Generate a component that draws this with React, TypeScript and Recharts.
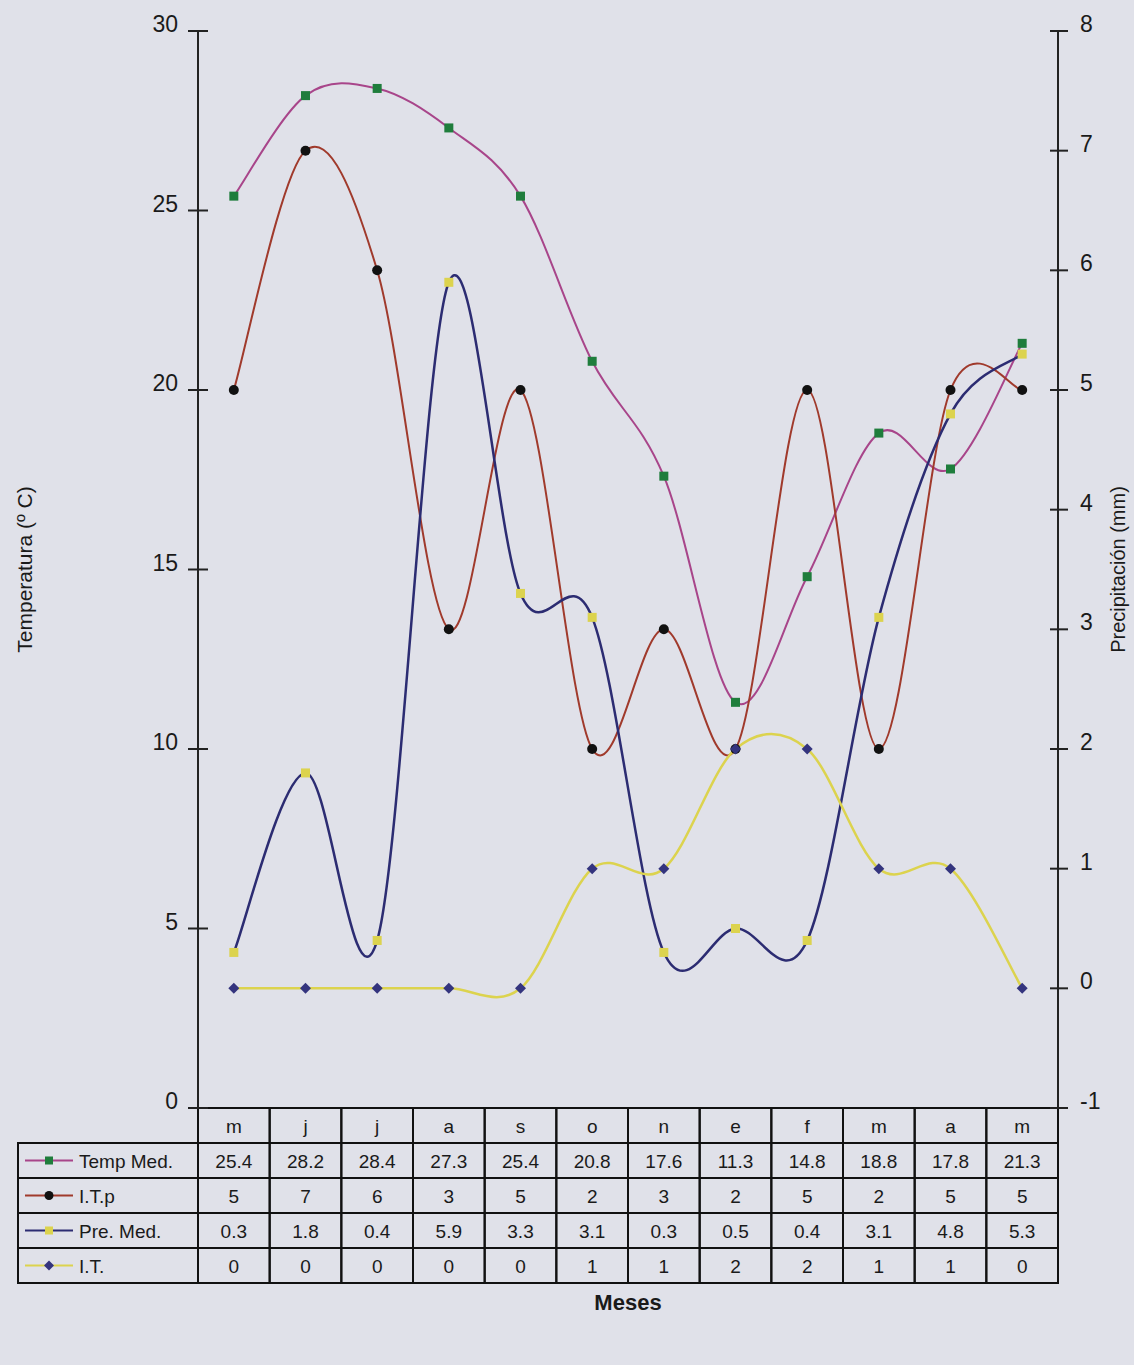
import React from 'react';
import { LineChart, Line, XAxis, YAxis } from 'recharts';

const months = ['m', 'j', 'j', 'a', 's', 'o', 'n', 'e', 'f', 'm', 'a', 'm'];
const tempMed = [25.4, 28.2, 28.4, 27.3, 25.4, 20.8, 17.6, 11.3, 14.8, 18.8, 17.8, 21.3];
const itp = [5, 7, 6, 3, 5, 2, 3, 2, 5, 2, 5, 5];
const preMed = [0.3, 1.8, 0.4, 5.9, 3.3, 3.1, 0.3, 0.5, 0.4, 3.1, 4.8, 5.3];
const it = [0, 0, 0, 0, 0, 1, 1, 2, 2, 1, 1, 0];
const leftTicks = [0, 5, 10, 15, 20, 25, 30];
const rightTicks = [-1, 0, 1, 2, 3, 4, 5, 6, 7, 8];

const data = months.map((m, i) => ({
  idx: i,
  mes: m,
  temp: tempMed[i],
  itp: itp[i],
  pre: preMed[i],
  it: it[i],
}));

const W = 1134;
const H = 1365;
const PLOT_L = 198;
const PLOT_R = 1058;
const PLOT_T = 31;
const PLOT_B = 1108;
const BAND = (PLOT_R - PLOT_L) / months.length;
const ROW = 35;
const FONT = '"Liberation Sans", Arial, sans-serif';

const C_TEMP = '#a8458a';
const C_ITP = '#a03a2c';
const C_PRE = '#2c2c72';
const C_IT = '#dcd34e';
const C_GREEN = '#1f7d3c';
const C_DIAMOND = '#34347e';

// Excel-style smoothed line (Catmull-Rom through every point)
const excelCurve = (context: any) => {
  let pts: [number, number][] = [];
  return {
    areaStart() {},
    areaEnd() {},
    lineStart() {
      pts = [];
    },
    point(x: number, y: number) {
      pts.push([+x, +y]);
    },
    lineEnd() {
      if (!pts.length) return;
      context.moveTo(pts[0][0], pts[0][1]);
      for (let i = 0; i < pts.length - 1; i++) {
        const p0 = pts[i - 1] || pts[i];
        const p1 = pts[i];
        const p2 = pts[i + 1];
        const p3 = pts[i + 2] || p2;
        context.bezierCurveTo(
          p1[0] + (p2[0] - p0[0]) / 6,
          p1[1] + (p2[1] - p0[1]) / 6,
          p2[0] - (p3[0] - p1[0]) / 6,
          p2[1] - (p3[1] - p1[1]) / 6,
          p2[0],
          p2[1]
        );
      }
    },
  };
};

const SquareDot = (color: string) => (props: any) => {
  const { cx, cy, index } = props;
  if (cx == null || cy == null) return <g key={index} />;
  return <rect key={index} x={cx - 4.5} y={cy - 4.5} width={9} height={9} fill={color} />;
};

const CircleDot = (props: any) => {
  const { cx, cy, index } = props;
  if (cx == null || cy == null) return <g key={index} />;
  return <circle key={index} cx={cx} cy={cy} r={5} fill="#111" />;
};

const DiamondDot = (props: any) => {
  const { cx, cy, index } = props;
  if (cx == null || cy == null) return <g key={index} />;
  return (
    <path
      key={index}
      d={`M${cx},${cy - 5.5}L${cx + 5.5},${cy}L${cx},${cy + 5.5}L${cx - 5.5},${cy}Z`}
      fill={C_DIAMOND}
    />
  );
};

const legendRows = [
  { name: 'Temp Med.', line: C_TEMP, marker: 'square', mcolor: C_GREEN, values: tempMed },
  { name: 'I.T.p', line: C_ITP, marker: 'circle', mcolor: '#111', values: itp },
  { name: 'Pre. Med.', line: C_PRE, marker: 'square', mcolor: C_IT, values: preMed },
  { name: 'I.T.', line: C_IT, marker: 'diamond', mcolor: C_DIAMOND, values: it },
];

const TableTick = (props: any) => {
  const { x, y, payload } = props;
  const i = payload.index;
  const left = x - BAND / 2;
  const cell = (key: string, cy: number, text: string) => (
    <g key={key}>
      <rect x={left} y={cy} width={BAND} height={ROW} fill="none" stroke="#111" strokeWidth={2} />
      <text
        x={x}
        y={cy + ROW / 2 + 7}
        textAnchor="middle"
        fontSize={19}
        fontFamily={FONT}
        fill="#1a1a1a"
      >
        {text}
      </text>
    </g>
  );
  const legendW = 180;
  const lx = left - legendW;
  return (
    <g>
      {cell('h', y, months[i])}
      {legendRows.map((r, k) => cell('v' + k, y + ROW * (k + 1), String(r.values[i])))}
      {i === 0 &&
        legendRows.map((r, k) => {
          const ry = y + ROW * (k + 1);
          const my = ry + ROW / 2;
          const mx = lx + 31;
          let marker;
          if (r.marker === 'square') marker = <rect x={mx - 4} y={my - 4} width={8} height={8} fill={r.mcolor} />;
          else if (r.marker === 'circle') marker = <circle cx={mx} cy={my} r={4.5} fill={r.mcolor} />;
          else
            marker = (
              <path d={`M${mx},${my - 5}L${mx + 5},${my}L${mx},${my + 5}L${mx - 5},${my}Z`} fill={r.mcolor} />
            );
          return (
            <g key={'l' + k}>
              <rect x={lx} y={ry} width={legendW} height={ROW} fill="none" stroke="#111" strokeWidth={2} />
              <line x1={lx + 7} x2={lx + 55} y1={my} y2={my} stroke={r.line} strokeWidth={2} />
              {marker}
              <text x={lx + 61} y={my + 7} fontSize={19} fontFamily={FONT} fill="#1a1a1a">
                {r.name}
              </text>
            </g>
          );
        })}
    </g>
  );
};

const LeftTick = (props: any) => {
  const { x, y, payload } = props;
  return (
    <g>
      <line x1={x - 10} x2={x + 10} y1={y} y2={y} stroke="#222" strokeWidth={2} />
      <text x={x - 20} y={y + 1} textAnchor="end" fontSize={23} fontFamily={FONT} fill="#1a1a1a">
        {payload.value}
      </text>
    </g>
  );
};

const RightTick = (props: any) => {
  const { x, y, payload } = props;
  return (
    <g>
      <line x1={x - 8} x2={x + 10} y1={y} y2={y} stroke="#222" strokeWidth={2} />
      <text x={x + 22} y={y + 1} textAnchor="start" fontSize={23} fontFamily={FONT} fill="#1a1a1a">
        {payload.value}
      </text>
    </g>
  );
};

export default function App() {
  return (
    <div
      style={{
        position: 'absolute',
        left: 0,
        top: 0,
        width: W,
        height: H,
        background: '#e0e1e9',
        fontFamily: FONT,
      }}
    >
      <LineChart
        width={W}
        height={H}
        data={data}
        margin={{ top: PLOT_T, left: 0, right: 0, bottom: 0 }}
      >
        <XAxis
          dataKey="idx"
          type="category"
          padding={{ left: BAND / 2, right: BAND / 2 }}
          height={H - PLOT_B}
          tickSize={0}
          tickMargin={0}
          tickLine={false}
          axisLine={{ stroke: '#111', strokeWidth: 2 }}
          interval={0}
          tick={<TableTick />}
          label={{
            value: 'Meses',
            position: 'insideTop',
            offset: 186,
            fontSize: 22,
            fontWeight: 'bold',
            fontFamily: FONT,
            fill: '#1a1a1a',
          }}
        />
        <YAxis
          yAxisId="l"
          domain={[0, 30]}
          ticks={leftTicks}
          width={PLOT_L}
          tickSize={0}
          tickMargin={0}
          tickLine={false}
          axisLine={{ stroke: '#222', strokeWidth: 2 }}
          tick={<LeftTick />}
          label={{
            value: 'Temperatura (º C)',
            angle: -90,
            position: 'insideLeft',
            offset: 25,
            style: { textAnchor: 'middle' },
            fontSize: 21,
            fontFamily: FONT,
            fill: '#1a1a1a',
          }}
        />
        <YAxis
          yAxisId="r"
          orientation="right"
          domain={[-1, 8]}
          ticks={rightTicks}
          width={W - PLOT_R}
          tickSize={0}
          tickMargin={0}
          tickLine={false}
          axisLine={{ stroke: '#222', strokeWidth: 2 }}
          tick={<RightTick />}
          label={{
            value: 'Precipitación (mm)',
            angle: -90,
            position: 'insideRight',
            offset: 16,
            style: { textAnchor: 'middle' },
            fontSize: 20,
            fontFamily: FONT,
            fill: '#1a1a1a',
          }}
        />
        <Line
          yAxisId="l"
          dataKey="temp"
          type={excelCurve as any}
          stroke={C_TEMP}
          strokeWidth={2}
          dot={SquareDot(C_GREEN)}
          activeDot={false}
          isAnimationActive={false}
        />
        <Line
          yAxisId="r"
          dataKey="itp"
          type={excelCurve as any}
          stroke={C_ITP}
          strokeWidth={2}
          dot={CircleDot}
          activeDot={false}
          isAnimationActive={false}
        />
        <Line
          yAxisId="r"
          dataKey="pre"
          type={excelCurve as any}
          stroke={C_PRE}
          strokeWidth={2.5}
          dot={SquareDot(C_IT)}
          activeDot={false}
          isAnimationActive={false}
        />
        <Line
          yAxisId="r"
          dataKey="it"
          type={excelCurve as any}
          stroke={C_IT}
          strokeWidth={2.5}
          dot={DiamondDot}
          activeDot={false}
          isAnimationActive={false}
        />
      </LineChart>
    </div>
  );
}
